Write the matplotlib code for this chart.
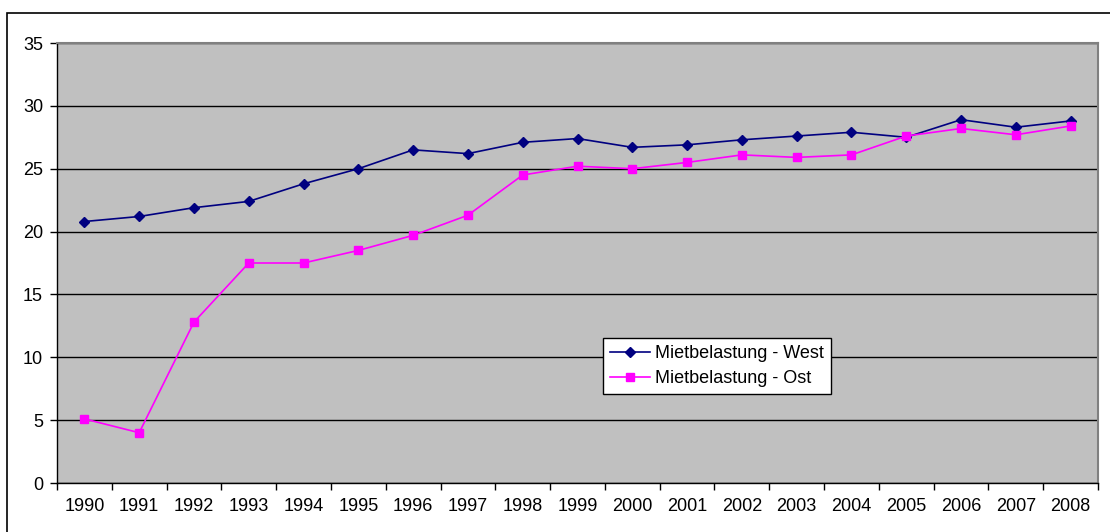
import matplotlib.pyplot as plt
from matplotlib.patches import Rectangle

plt.rcParams['font.family'] = ['Liberation Sans', 'DejaVu Sans']

years = ['1990', '1991', '1992', '1993', '1994', '1995', '1996', '1997', '1998', '1999',
         '2000', '2001', '2002', '2003', '2004', '2005', '2006', '2007', '2008']
west = [20.8, 21.2, 21.9, 22.4, 23.8, 25.0, 26.5, 26.2, 27.1, 27.4,
        26.7, 26.9, 27.3, 27.6, 27.9, 27.5, 28.9, 28.3, 28.8]
ost = [5.1, 4.0, 12.8, 17.5, 17.5, 18.5, 19.7, 21.3, 24.5, 25.2,
       25.0, 25.5, 26.1, 25.9, 26.1, 27.6, 28.2, 27.7, 28.4]

fig = plt.figure(figsize=(11.1, 5.32), dpi=100)
fig.patch.set_facecolor('white')
ax = fig.add_axes([57 / 1110, 1 - 483 / 532, 1041 / 1110, 440 / 532])
ax.set_facecolor('#C0C0C0')

# outer chart border (cut off at right and bottom like in the original)
fig.patches.append(Rectangle((7 / 1110, -0.1), 1.2, 1.1 - 13 / 532, transform=fig.transFigure,
                             fill=False, edgecolor='black', linewidth=1.2))

x = list(range(len(years)))
ax.plot(x, west, color='#000080', linewidth=1.2, marker='D', markersize=5.3,
        label='Mietbelastung - West', zorder=3)
ax.plot(x, ost, color='#FF00FF', linewidth=1.2, marker='s', markersize=5.8,
        label='Mietbelastung - Ost', zorder=3)

ax.set_ylim(0, 35)
ax.set_yticks(range(0, 36, 5))
ax.set_xlim(-0.5, len(years) - 0.5)
ax.set_xticks(x)
ax.set_xticklabels(years)
ax.set_xticks([i - 0.5 for i in range(len(years) + 1)], minor=True)

ax.yaxis.grid(True, color='black', linewidth=1)
ax.set_axisbelow(True)

ax.tick_params(axis='y', length=5, width=1, pad=5, labelsize=13)
ax.tick_params(axis='x', which='major', length=0, pad=11, labelsize=13)
ax.tick_params(axis='x', which='minor', length=5, width=1)

for s in ['top', 'right']:
    ax.spines[s].set_color('#808080')
    ax.spines[s].set_linewidth(1.5)
for s in ['left', 'bottom']:
    ax.spines[s].set_color('black')
    ax.spines[s].set_linewidth(1)

leg = ax.legend(loc='upper left', bbox_to_anchor=(0.5245, 0.33), fontsize=13,
                fancybox=False, framealpha=1, edgecolor='black', borderaxespad=0,
                borderpad=0.4, labelspacing=0.45, handlelength=2.2, handletextpad=0.3)
leg.get_frame().set_linewidth(1)

plt.savefig('out.png', dpi=100)
